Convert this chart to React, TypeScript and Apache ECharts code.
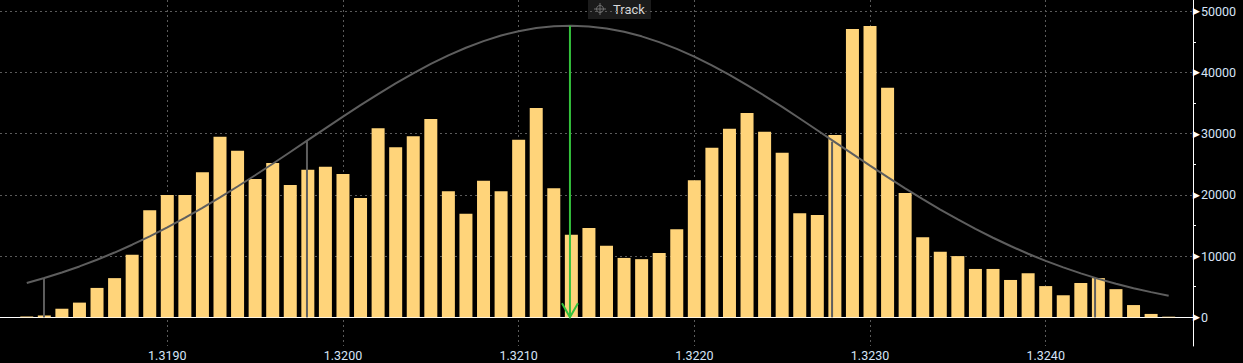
import React, { useEffect, useRef } from "react";
import * as echarts from "echarts";

// Price levels (bar centres)
const priceLevels: number[] = [
  1.3182, 1.3183, 1.3184, 1.3185, 1.3186, 1.3187, 1.3188, 1.3189, 1.319, 1.3191,
  1.3192, 1.3193, 1.3194, 1.3195, 1.3196, 1.3197, 1.3198, 1.3199, 1.32, 1.3201,
  1.3202, 1.3203, 1.3204, 1.3205, 1.3206, 1.3207, 1.3208, 1.3209, 1.321, 1.3211,
  1.3212, 1.3213, 1.3214, 1.3215, 1.3216, 1.3217, 1.3218, 1.3219, 1.322, 1.3221,
  1.3222, 1.3223, 1.3224, 1.3225, 1.3226, 1.3227, 1.3228, 1.3229, 1.323, 1.3231,
  1.3232, 1.3233, 1.3234, 1.3235, 1.3236, 1.3237, 1.3238, 1.3239, 1.324, 1.3241,
  1.3242, 1.3243, 1.3244, 1.3245, 1.3246, 1.3247,
];

// Volume per price level
const volumes: number[] = [
  150, 300, 1400, 2400, 4800, 6400, 10200, 17500, 20000, 20000,
  23700, 29500, 27200, 22600, 25200, 21600, 24100, 24600, 23400, 19500,
  30900, 27800, 29600, 32400, 20600, 16900, 22300, 20600, 29000, 34200,
  21100, 13500, 14600, 11700, 9700, 9500, 10500, 14400, 22400, 27700,
  30800, 33400, 30300, 26900, 17000, 16700, 29800, 47100, 47600, 37500,
  20300, 13100, 10700, 10000, 7900, 7900, 6100, 7200, 5100, 3600,
  5600, 6400, 4600, 2000, 550, 100,
];

// Fitted distribution curve, read at each price level
const fitCurve: number[] = [
  5600, 6410, 7320, 8310, 9400, 10580, 11860, 13230, 14690, 16240,
  17880, 19590, 21370, 23210, 25090, 27010, 28940, 30870, 32780, 34660,
  36480, 38230, 39870, 41400, 42800, 44050, 45130, 46040, 46750, 47260,
  47560, 47650, 47530, 47190, 46650, 45910, 44970, 43860, 42590, 41170,
  39620, 37950, 36190, 34370, 32480, 30560, 28630, 26700, 24790, 22910,
  21080, 19310, 17610, 15990, 14450, 13000, 11650, 10380, 9220, 8150,
  7170, 6280, 5480, 4750, 4110, 3530,
];

// Mean marker (green arrow)
const meanPrice = 1.321292;
const meanPeak = 47650;

// Sigma markers (grey verticals): [price, curve height]
const sigmaPrices: number[] = [1.318298, 1.319795, 1.322784, 1.324281];
const sigmaHeights: number[] = [6420, 28970, 28690, 6490];

const labelColor = "#d6e4f7";
const gridColor = "#5a5a5a";

export default function App() {
  const ref = useRef<HTMLDivElement>(null);

  useEffect(() => {
    document.body.style.margin = "0";
    document.body.style.background = "#000";
    if (!ref.current) return;
    const chart = echarts.init(ref.current, undefined, { renderer: "svg" });

    const barData = priceLevels.map((p, i) => [p, volumes[i]]);
    const curveData = priceLevels.map((p, i) => [p, fitCurve[i]]);
    const sigmaData = sigmaPrices.map((p, i) => [p, sigmaHeights[i]]);

    chart.setOption({
      animation: false,
      backgroundColor: "#000",
      grid: { left: 0, top: 0, right: 50, bottom: 17, containLabel: false },
      xAxis: {
        type: "value",
        min: 1.3180477,
        max: 1.3248385,
        axisLine: { show: true, lineStyle: { color: "#ffffff", width: 1 } },
        axisTick: { show: false },
        axisLabel: {
          color: labelColor,
          fontFamily: "Roboto",
          fontSize: 12.5,
          margin: 3,
          showMinLabel: false,
          showMaxLabel: false,
          formatter: (v: number) => v.toFixed(4),
        },
        splitLine: {
          show: true,
          showMinLine: false,
          showMaxLine: false,
          lineStyle: { color: gridColor, type: [2, 3], width: 1 },
        },
      },
      yAxis: {
        type: "value",
        position: "right",
        min: -4690,
        max: 51846,
        axisLine: { show: true, lineStyle: { color: "#ffffff", width: 1 } },
        axisTick: { show: false },
        minorTick: { show: true, splitNumber: 2, length: 3, lineStyle: { color: "#ffffff", width: 1 } },
        axisLabel: {
          margin: 0,
          showMinLabel: false,
          showMaxLabel: false,
          formatter: (v: number) => (v % 10000 === 0 ? `{t|▶}{v|${v}}` : ""),
          rich: {
            t: { color: "#ffffff", fontSize: 9, fontFamily: "DejaVu Sans", padding: [0, 1, 0, 0] },
            v: { color: labelColor, fontSize: 12.5, fontFamily: "Roboto" },
          },
        },
        splitLine: {
          show: true,
          showMinLine: false,
          showMaxLine: false,
          lineStyle: { color: gridColor, type: [2, 3], width: 1 },
        },
      },
      series: [
        {
          type: "bar",
          data: barData,
          barWidth: 13,
          itemStyle: { color: "#ffd47a" },
          z: 2,
        },
        {
          type: "line",
          data: curveData,
          symbol: "none",
          lineStyle: { color: "#5e5e5e", width: 2 },
          z: 3,
        },
        {
          type: "custom",
          data: sigmaData,
          encode: { x: 0, y: 1 },
          z: 4,
          renderItem: (params: any, api: any) => {
            const top = api.coord([api.value(0), api.value(1)]);
            const bottom = api.coord([api.value(0), 0]);
            return {
              type: "line",
              shape: { x1: top[0], y1: top[1], x2: bottom[0], y2: bottom[1] },
              style: { stroke: "#5e5e5e", lineWidth: 2 },
            };
          },
        },
        {
          type: "custom",
          data: [[meanPrice, meanPeak]],
          encode: { x: 0, y: 1 },
          z: 5,
          renderItem: (params: any, api: any) => {
            const top = api.coord([api.value(0), api.value(1)]);
            const bottom = api.coord([api.value(0), 0]);
            return {
              type: "group",
              children: [
                {
                  type: "line",
                  shape: { x1: top[0], y1: top[1], x2: bottom[0], y2: bottom[1] },
                  style: { stroke: "#34c23c", lineWidth: 2 },
                },
                {
                  type: "polyline",
                  shape: {
                    points: [
                      [bottom[0] - 8, bottom[1] - 14],
                      [bottom[0], bottom[1]],
                      [bottom[0] + 8, bottom[1] - 14],
                    ],
                  },
                  style: { stroke: "#34c23c", lineWidth: 2, fill: "none" },
                },
              ],
            };
          },
        },
      ],
      graphic: [
        {
          type: "group",
          z: 100,
          children: [
            { type: "rect", shape: { x: 588, y: 0, width: 63, height: 19 }, style: { fill: "#1b1b1b" } },
            { type: "circle", shape: { cx: 600, cy: 9, r: 3.5 }, style: { stroke: "#707070", fill: "none", lineWidth: 1 } },
            { type: "line", shape: { x1: 594, y1: 9, x2: 606, y2: 9 }, style: { stroke: "#707070", lineWidth: 1 } },
            { type: "line", shape: { x1: 600, y1: 3, x2: 600, y2: 15 }, style: { stroke: "#707070", lineWidth: 1 } },
            {
              type: "text",
              x: 613,
              y: 9,
              style: {
                text: "Track",
                fill: "#d8d8d8",
                font: "13px Roboto",
                verticalAlign: "middle",
                align: "left",
              },
            },
          ],
        },
      ],
    });

    return () => chart.dispose();
  }, []);

  return (
    <div
      ref={ref}
      style={{ position: "fixed", left: 0, top: 0, width: 1243, height: 363, background: "#000" }}
    />
  );
}
